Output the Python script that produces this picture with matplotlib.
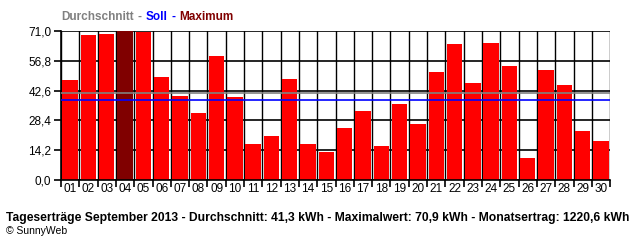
import matplotlib.pyplot as plt
import numpy as np

days = ['01', '02', '03', '04', '05', '06', '07', '08', '09', '10',
        '11', '12', '13', '14', '15', '16', '17', '18', '19', '20',
        '21', '22', '23', '24', '25', '26', '27', '28', '29', '30']
ertrag = [47.8, 69.0, 69.5, 70.9, 70.5, 49.0, 40.0, 31.9, 59.0, 39.4,
          17.1, 20.9, 47.9, 17.1, 13.3, 24.7, 32.7, 16.1, 36.1, 26.7,
          51.4, 64.8, 46.2, 65.2, 54.3, 10.5, 52.4, 45.2, 23.3, 18.6]
durchschnitt = 41.3
soll = 38.1
yticks = [0.0, 14.2, 28.4, 42.6, 56.8, 71.0]

plt.rcParams['font.family'] = ['Liberation Sans', 'DejaVu Sans']

fig = plt.figure(figsize=(6.4, 2.4), dpi=100)
ax = fig.add_axes([0.0953, 0.25, 0.858, 0.621])

x = np.arange(len(days))
maxidx = int(np.argmax(ertrag))
colors = ['#ff0000'] * len(days)
colors[maxidx] = '#800000'
ax.bar(x, ertrag, width=0.84, color=colors, linewidth=0, zorder=2)

# grid lines behind the bars
for yv in yticks:
    ax.axhline(yv, color='black', linewidth=1.2, zorder=1)
for b in np.arange(-0.5, len(days), 1.0):
    ax.axvline(b, color='black', linewidth=1.0, zorder=1)

ax.axhline(durchschnitt, color='#808080', linewidth=1.2, zorder=3)
ax.axhline(soll, color='#0000ff', linewidth=1.2, zorder=3)

ax.set_xlim(-0.5, len(days) - 0.5)
ax.set_ylim(0, 71.0)
ax.set_yticks(yticks)
ax.set_yticklabels([('%.1f' % v).replace('.', ',') for v in yticks], fontsize=8.5)
ax.set_xticks(np.arange(-0.5, len(days), 1.0))
ax.set_xticklabels([])
ax.set_xticks(x, minor=True)
ax.set_xticklabels(days, minor=True, fontsize=8.5)
ax.tick_params(axis='x', which='minor', length=0, pad=2)
ax.tick_params(axis='x', which='major', length=5, width=1.2, direction='out')
ax.tick_params(axis='y', length=5, width=1.2, direction='out', pad=2)
for s in ['top', 'right']:
    ax.spines[s].set_visible(False)
ax.spines['left'].set_linewidth(1.2)
ax.spines['bottom'].set_linewidth(1.2)

# colored legend title, pieces placed one after another
renderer = fig.canvas.get_renderer()
xpos = 61
pieces = [('Durchschnitt', '#808080'), ('-', '#808080'), ('Soll', '#0000ff'),
          ('-', '#0000ff'), ('Maximum', '#800000')]
for txt, c in pieces:
    t = fig.text(xpos / 640, 1 - 20 / 240, txt, color=c, fontsize=8.5, fontweight='bold')
    xpos += t.get_window_extent(renderer).width + 4

foot = fig.text(6 / 640, 1 - 221 / 240,
                'Tageserträge September 2013 - Durchschnitt: 41,3 kWh - Maximalwert: 70,9 kWh - Monatsertrag: 1220,6 kWh',
                fontsize=9, fontweight='bold')
w = foot.get_window_extent(renderer).width
foot.set_fontsize(9 * 626 / w)
fig.text(6 / 640, 1 - 234 / 240, '© SunnyWeb', fontsize=7.5)

plt.savefig('out.png', dpi=100)
